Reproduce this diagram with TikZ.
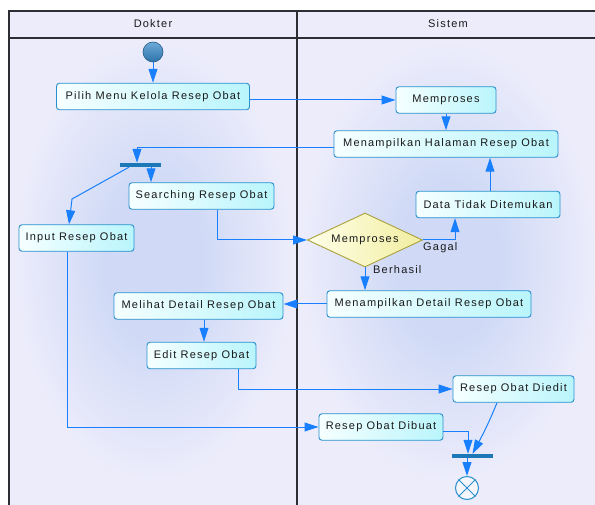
\documentclass[tikz,border=0pt]{standalone}
\usepackage{fontspec}
\setmainfont{Liberation Sans}[LetterSpace=11]
\usetikzlibrary{arrows.meta,shapes.geometric,calc}

\definecolor{lanebg}{RGB}{236,236,251}
\definecolor{laneglow}{RGB}{208,218,246}
\definecolor{framec}{RGB}{45,45,52}
\definecolor{flowc}{RGB}{24,128,255}
\definecolor{boxedge}{RGB}{40,145,205}
\definecolor{boxleft}{RGB}{246,255,255}
\definecolor{boxright}{RGB}{185,245,252}
\definecolor{barc}{RGB}{28,120,182}
\definecolor{decedge}{RGB}{170,160,60}
\definecolor{decleft}{RGB}{255,255,232}
\definecolor{decright}{RGB}{241,237,160}
\definecolor{txt}{RGB}{25,25,25}
\definecolor{ballhi}{RGB}{110,170,215}
\definecolor{balllo}{RGB}{45,115,170}

% soft glow: full tint in the middle, lane colour at the box edge
\pgfdeclareradialshading{laneshade}{\pgfpoint{0bp}{0bp}}{color(0bp)=(laneglow); color(9bp)=(laneglow); color(25bp)=(lanebg); color(50bp)=(lanebg)}

\begin{document}
\begin{tikzpicture}[x=1pt,y=-1pt,
  lbl/.style={text=txt,font=\fontsize{11}{13}\selectfont,inner sep=0},
  activity/.style={draw=boxedge,line width=0.9pt,rounded corners=3pt,
    left color=boxleft,right color=boxright,inner sep=0,minimum height=26.5pt,
    text=txt,font=\fontsize{11}{13}\selectfont},
  decision/.style={diamond,aspect=2.2,draw=decedge,line width=0.9pt,left color=decleft,
    right color=decright,inner sep=0,minimum width=115pt,minimum height=54pt,
    text=txt,font=\fontsize{11}{13}\selectfont},
  syncbar/.style={fill=barc,inner sep=0,minimum width=41pt,minimum height=4pt},
  flow/.style={draw=flowc,line width=1pt,-{Triangle[length=14pt,width=9pt]}},
  lane/.style={draw=framec,line width=1.3pt}]

\useasboundingbox (0,0) rectangle (595,505);
\clip (0,0) rectangle (595,505);
\fill[white] (0,0) rectangle (595,505);

% swimlane background with soft glow
\fill[lanebg] (9,11) rectangle (600,510);
\shade[shading=laneshade] (15,42) rectangle (292,480);
\shade[shading=laneshade] (302,42) rectangle (595,480);
\fill[lanebg] (9,11) rectangle (600,38);
\draw[lane] (600,11) -- (9,11) -- (9,510);
\draw[lane] (9,38) -- (600,38);
\draw[lane] (297,11) -- (297,510);
\node[lbl] (laneA) at (153,24) {Dokter};
\node[lbl] (laneB) at (448,24) {Sistem};

% start / end
\node[circle,draw=balllo!80!black,line width=0.6pt,top color=ballhi,bottom color=balllo,
  minimum size=20pt,inner sep=0] (start) at (153,52) {};
\node[circle,draw=boxedge,line width=1pt,fill=white!55!lanebg,minimum size=23pt,inner sep=0]
  (end) at (467,488) {};
\draw[boxedge,line width=1pt] (end.north east) -- (end.south west)
  (end.north west) -- (end.south east);

% activities
\node[activity,minimum width=193pt] (pilih) at (153,96.5) {Pilih Menu Kelola Resep Obat};
\node[activity,minimum width=100pt] (mem) at (446,100) {Memproses};
\node[activity,minimum width=224pt] (halaman) at (446,144) {Menampilkan Halaman Resep Obat};
\node[activity,minimum width=145pt] (search) at (201.5,196) {Searching Resep Obat};
\node[activity,minimum width=144pt] (tidak) at (488,204.5) {Data Tidak Ditemukan};
\node[activity,minimum width=115pt] (input) at (76.5,238) {Input Resep Obat};
\node[activity,minimum width=169pt] (melihat) at (198.5,306) {Melihat Detail Resep Obat};
\node[activity,minimum width=204pt] (detail) at (429,304) {Menampilkan Detail Resep Obat};
\node[activity,minimum width=109pt] (edit) at (201.5,355.5) {Edit Resep Obat};
\node[activity,minimum width=121pt] (diedit) at (513.5,389) {Resep Obat Diedit};
\node[activity,minimum width=124pt] (dibuat) at (381,427) {Resep Obat Dibuat};
\node[decision] (dia) at (365,240) {Memproses};

% fork / join bars
\node[syncbar] (fork) at (140.5,165) {};
\node[syncbar] (join) at (472.5,456) {};

% guard labels
\node[lbl,anchor=west] (gagal) at (423,248) {Gagal};
\node[lbl,anchor=west] (berhasil) at (373,270) {Berhasil};

% control flows
\coordinate (bendA) at (72,199);
\draw[flow] (start) -- (pilih);
\draw[flow] (pilih.east |- mem.west) -- (mem.west);
\draw[flow] (mem) -- (halaman);
\draw[flow] ([yshift=-4pt]halaman.west) -| ([xshift=-3.5pt]fork.north);
\draw[flow] ([xshift=10.5pt]fork.south) -- ([xshift=10.5pt]fork.south |- search.north);
\draw[flow] ([xshift=-11.5pt]fork.south) -- (bendA) -- ([xshift=-7.5pt]input.north);
\draw[flow] ([xshift=15.5pt]search.south) |- (dia.west);
\draw[flow] (dia.east) -| ([xshift=-33pt]tidak.south);
\draw[flow] ([xshift=2pt]tidak.north) -- ([xshift=2pt]tidak.north |- halaman.south);
\draw[flow] (dia.south) -- (dia.south |- detail.north);
\draw[flow] (detail.west) -- (detail.west -| melihat.east);
\draw[flow] ([xshift=5.5pt]melihat.south) -- ([xshift=5.5pt]melihat.south |- edit.north);
\draw[flow] ([xshift=36.5pt]edit.south) |- (diedit.west);
\draw[flow] ([xshift=-9.5pt]input.south) |- (dibuat.west);
\draw[flow] ([yshift=-4pt]dibuat.east) -| ([xshift=-4.5pt]join.north);
\draw[flow] ([xshift=-16.5pt]diedit.south) to[out=-112,in=62] (join.north);
\draw[flow] ([xshift=-5.5pt]join.south) -- (end.north);
\end{tikzpicture}
\end{document}
